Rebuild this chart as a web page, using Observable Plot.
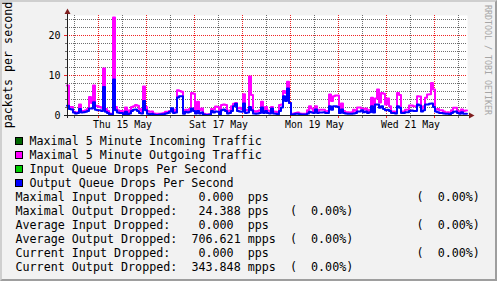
<!DOCTYPE html>
<html><head><meta charset="utf-8">
<script src="https://cdn.jsdelivr.net/npm/d3@7"></script>
<script src="https://cdn.jsdelivr.net/npm/@observablehq/plot@0.6"></script>
<style>
html,body{margin:0;padding:0;background:#F2F2F2;}
#wrap{position:relative;width:497px;height:281px;overflow:hidden;background:#F2F2F2;font-family:"DejaVu Sans Mono",monospace;color:#000;}
#wrap svg{position:absolute;left:0;top:0;}
#border{position:absolute;left:0;top:0;width:497px;height:281px;box-sizing:border-box;border-style:solid;border-width:2px;border-color:#CFCFCF #9E9E9E #9E9E9E #CFCFCF;pointer-events:none;}
.sw{position:absolute;width:6px;height:6px;border:1px solid #000;left:15px;}
.row{position:absolute;height:14px;line-height:14px;font-size:11.7px;white-space:pre;}
</style></head><body><div id="wrap"></div>
<script>
// ---- data ----
const startTime = "2025-05-14T08:30:00Z";   // first sample, hourly samples
const stepHours = 1;
const outMax = [
 7.4,2.0,2.0,0.8,0.6,0.7,2.6,1.0,1.0,1.2,
 1.5,4.5,3.0,7.4,2.3,2.2,2.0,1.8,11.6,1.5,
 1.0,0.4,0.3,24.4,2.0,1.2,1.0,1.0,0.1,1.9,
 0.3,1.2,2.0,2.2,2.5,2.3,1.5,1.0,7.1,2.0,
 1.0,0.8,0.9,0.4,0.3,0.3,0.3,0.4,0.5,0.8,
 0.8,1.0,1.3,0.9,1.4,6.2,6.0,5.8,1.0,1.3,
 1.2,1.5,5.5,5.3,0.8,3.3,1.2,1.6,0.3,0.2,
 0.2,0.2,1.5,1.4,2.1,2.0,0.5,2.5,2.6,2.5,
 0.9,1.1,2.2,2.8,3.0,1.6,1.8,1.5,5.2,1.2,
 1.3,9.6,5.0,1.0,0.8,1.0,1.2,3.3,1.0,2.0,
 1.1,1.0,2.0,0.9,0.8,0.5,2.5,2.6,6.0,5.5,
 8.3,3.0,0.2,0.4,0.5,0.6,0.4,0.3,0.3,0.3,
 1.2,2.2,1.6,0.9,2.2,1.0,1.3,1.3,1.3,0.9,
 1.0,5.1,3.5,4.7,4.9,4.9,1.0,2.9,1.0,0.7,
 0.7,0.6,0.7,1.3,1.0,1.9,1.9,1.6,1.4,1.6,
 1.0,1.3,4.3,1.3,4.1,6.4,3.1,5.5,5.3,2.6,
 4.1,2.2,0.9,0.9,0.8,5.5,5.0,0.9,0.9,1.3,
 1.3,2.4,2.4,2.2,2.2,4.7,4.6,1.7,2.2,4.3,
 5.1,5.2,8.0,6.4,1.4,1.5,1.2,1.2,0.9,0.6,
 0.7,0.6,1.2,1.8,1.8,1.0,0.8,1.4,1.0,1.1];
const outDrops = [
 2.3,1.5,1.4,0.6,0.4,0.5,1.5,0.6,0.7,0.8,
 1.0,1.6,1.6,3.2,1.3,1.2,1.2,1.0,7.0,0.8,
 0.5,0.2,0.2,8.9,1.2,0.6,0.5,0.5,0.0,0.8,
 0.1,0.4,1.0,1.3,1.4,1.0,0.5,0.4,3.5,1.2,
 0.3,0.2,0.3,0.1,0.0,0.0,0.1,0.2,0.2,0.4,
 0.5,0.8,1.7,0.5,0.6,4.4,4.7,4.7,0.3,0.8,
 0.6,0.8,1.6,1.0,0.4,1.0,0.4,0.6,0.1,0.0,
 0.0,0.1,1.0,0.6,0.9,0.8,0.2,1.2,1.4,1.0,
 0.4,0.5,1.0,2.2,2.8,1.0,0.9,0.8,2.9,0.5,
 0.6,2.0,1.2,0.4,0.3,0.4,0.5,1.9,0.5,1.0,
 0.5,0.4,1.6,0.4,0.3,0.2,1.0,1.9,4.7,3.5,
 6.6,3.0,0.0,0.2,0.3,0.3,0.2,0.1,0.1,0.1,
 0.4,0.8,0.6,0.5,1.4,0.5,0.6,0.6,0.7,0.5,
 0.5,2.2,1.3,2.2,2.2,2.0,0.5,1.4,0.5,0.4,
 0.3,0.3,0.3,0.4,0.5,0.9,0.9,1.2,0.7,0.9,
 0.5,0.7,2.2,0.6,2.6,2.6,1.8,2.2,1.5,1.2,
 1.3,1.0,0.5,0.5,0.4,2.2,1.8,0.5,0.5,0.7,
 0.7,1.0,1.1,1.0,1.0,2.6,2.4,0.9,1.2,2.6,
 2.6,2.8,2.9,2.0,0.9,0.7,0.5,0.5,0.4,0.3,
 0.3,0.2,0.5,0.8,0.9,0.5,0.3,0.7,0.3,0.3];
const yTickValues = [0, 10, 20];
const yMax = 25;
const xTickLabels = ["Thu 15 May", "Sat 17 May", "Mon 19 May", "Wed 21 May"];
const xTickDates = ["2025-05-15T12:00:00Z", "2025-05-17T12:00:00Z", "2025-05-19T12:00:00Z", "2025-05-21T12:00:00Z"];
const yTitle = "packets per second";
const watermark = "RRDTOOL / TOBI OETIKER";
const legendNames = ["Maximal 5 Minute Incoming Traffic", "Maximal 5 Minute Outgoing Traffic", "Input Queue Drops Per Second", "Output Queue Drops Per Second"];
const legendColors = ["#006600", "#FF00FF", "#00CC00", "#0000FF"];
const statNames = ["Maximal Input Dropped:", "Maximal Output Dropped:", "Average Input Dropped:", "Average Output Dropped:", "Current Input Dropped:", "Current Output Dropped:"];
const statValues = ["0.000", "24.388", "0.000", "706.621", "0.000", "343.848"];
const statUnits = ["pps", "pps", "pps", "mpps", "pps", "mpps"];
const statPercents = ["0.00%", "0.00%", "0.00%", "0.00%", "0.00%", "0.00%"];

// ---- build ----
const H = 3600e3 * stepHours;
const t0 = new Date(startTime);
const tEnd = new Date(+t0 + outMax.length * H);
const rows = outMax.map((m, i) => ({t: new Date(+t0 + i * H), m, b: outDrops[i]}));
rows.push({t: tEnd, m: outMax[outMax.length - 1], b: outDrops[outDrops.length - 1]});

const gridHours = d3.utcHour.every(12).range(t0, tEnd);
const xMinor = gridHours.filter(d => d.getUTCHours() === 12);
const xMajor = gridHours.filter(d => d.getUTCHours() === 0);
const yAll = d3.range(2, yMax, 2);
const yMinor = yAll.filter(v => v % 10 !== 0);
const yMajor = yAll.filter(v => v % 10 === 0);
const labelDates = xTickDates.map(d => new Date(d));
const labelMap = new Map(labelDates.map((d, i) => [+d, xTickLabels[i]]));

const minorColor = "#6E6E6E";
const majorColor = "#F02424";
const crisp = "crispEdges";

const chart = Plot.plot({
  width: 497, height: 135,
  marginLeft: 67, marginRight: 30, marginTop: 15, marginBottom: 20,
  style: {background: "transparent", fontFamily: "'DejaVu Sans Mono', monospace", color: "#000", overflow: "visible"},
  x: {type: "utc", domain: [t0, tEnd], label: null},
  y: {domain: [0, yMax], label: null},
  marks: [
    Plot.frame({fill: "#FFFFFF", stroke: "none"}),
    Plot.ruleY(yMinor, {stroke: minorColor, strokeDasharray: "1,1", shapeRendering: crisp}),
    Plot.ruleX(xMinor, {stroke: minorColor, strokeDasharray: "1,1", shapeRendering: crisp}),
    Plot.ruleY(yMajor, {stroke: majorColor, strokeDasharray: "1,1", shapeRendering: crisp}),
    Plot.ruleX(xMajor, {stroke: majorColor, strokeDasharray: "1,1", shapeRendering: crisp}),
    Plot.line(rows, {x: "t", y: "m", curve: "step-after", stroke: "#FF00FF", strokeWidth: 2, dx: -0.5, dy: -0.5}),
    Plot.line(rows, {x: "t", y: "b", curve: "step-after", stroke: "#0000FF", strokeWidth: 2, dx: -0.5, dy: -0.5}),
    Plot.axisY(yMinor, {tickSize: 2, tickFormat: () => "", stroke: minorColor}),
    Plot.axisY(yMajor, {tickSize: 3, tickFormat: () => "", stroke: majorColor}),
    Plot.axisY(yTickValues, {tickSize: 0, tickPadding: 7, fontSize: 10, fill: "#000"}),
    Plot.axisX(xMinor, {tickSize: 3, tickFormat: () => "", stroke: minorColor}),
    Plot.axisX(xMajor, {tickSize: 3, tickFormat: () => "", stroke: majorColor}),
    Plot.axisX(labelDates, {tickSize: 0, tickPadding: 6, fontSize: 9.8, fill: "#000", tickFormat: d => labelMap.get(+d)})
  ]
});

const svg = d3.select(chart);
const X = chart.scale("x"), Y = chart.scale("y");
const xL = X.apply(t0), xR = X.apply(tEnd), yB = Y.apply(0), yT = Y.apply(yMax);
const axisColor = "#1F1F1F", arrowColor = "#7F1F1F";
svg.append("line").attr("x1", xL - 3).attr("x2", xR + 2).attr("y1", yB + 0.5).attr("y2", yB + 0.5).attr("stroke", axisColor);
svg.append("line").attr("x1", xL + 0.5).attr("x2", xL + 0.5).attr("y1", yB + 3).attr("y2", yT - 2).attr("stroke", axisColor);
svg.append("path").attr("d", `M${xR + 2},${yB - 2.5}L${xR + 7.5},${yB + 0.5}L${xR + 2},${yB + 3.5}Z`).attr("fill", arrowColor);
svg.append("path").attr("d", `M${xL - 2.5},${yT - 1}L${xL + 0.5},${yT - 6.5}L${xL + 3.5},${yT - 1}Z`).attr("fill", arrowColor);
svg.append("text").attr("transform", `translate(8,${(yB + yT) / 2}) rotate(-90)`)
  .attr("text-anchor", "middle").attr("dominant-baseline", "central")
  .attr("font-size", 11.7).attr("fill", "#000").text(yTitle);
svg.append("text").attr("transform", `translate(488,60) rotate(90)`)
  .attr("text-anchor", "middle").attr("dominant-baseline", "central")
  .attr("font-size", 8.3).attr("fill", "#A6A6A6").text(watermark);

const wrap = document.getElementById("wrap");
wrap.appendChild(chart);

const rowCenter = k => 141 + 14 * k;
legendNames.forEach((name, k) => {
  const sw = document.createElement("div");
  sw.className = "sw";
  sw.style.top = (rowCenter(k) - 4) + "px";
  sw.style.background = legendColors[k];
  wrap.appendChild(sw);
  const t = document.createElement("div");
  t.className = "row";
  t.style.left = "29.5px";
  t.style.top = (rowCenter(k) - 7) + "px";
  t.textContent = name;
  wrap.appendChild(t);
});
statNames.forEach((name, k) => {
  const isIn = name.includes("Input");
  const v = statValues[k];
  let s = name + " ".repeat(Math.max(1, (isIn ? 31 : 32) - v.length - name.length)) + v;
  s = s.padEnd(33) + statUnits[k];
  s = s.padEnd(isIn ? 57 : 39) + "(  " + statPercents[k] + ")";
  const t = document.createElement("div");
  t.className = "row";
  t.style.left = "15.5px";
  t.style.top = (rowCenter(k + 4) - 7) + "px";
  t.textContent = s;
  wrap.appendChild(t);
});
const border = document.createElement("div");
border.id = "border";
wrap.appendChild(border);
</script>
</body></html>
